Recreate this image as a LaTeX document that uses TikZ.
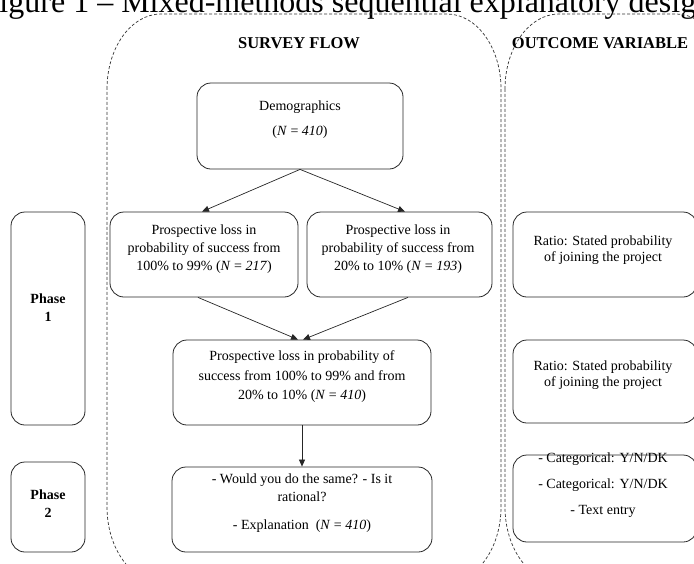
\documentclass[tikz,border=0pt]{standalone}
\usepackage{fontspec}
\setmainfont{Liberation Serif}
\usetikzlibrary{arrows.meta}
\begin{document}
\begin{tikzpicture}[x=1pt,y=-1pt,
  box/.style={draw=black!85, line width=0.8pt, rounded corners=14pt, inner sep=0pt},
  txt/.style={align=center, font=\fontsize{14}{18}\selectfont, inner sep=0pt},
  ptxt/.style={align=center, font=\fontsize{14}{18}\selectfont\bfseries, inner sep=0pt},
  hdr/.style={font=\fontsize{16.5}{20}\selectfont\bfseries, inner sep=0pt},
  region/.style={draw=black!80, line width=0.7pt, dash pattern=on 3pt off 2pt},
  arr/.style={-{Triangle[length=7pt,width=6pt]}, line width=0.7pt, draw=black!85}]
\useasboundingbox (0,0) rectangle (694,563);
\clip (0,0) rectangle (694,563);
% title (cut by the frame, as in the reference)
\node[anchor=base west, inner sep=0pt, font=\fontsize{32}{36}\selectfont] (title) at (-18.5,12) {Figure 1 – Mixed-methods sequential explanatory design};
% dashed regions
\draw[region] (107,89) .. controls (107,47.6) and (131.2,14) .. (161,14) -- (447,14)
  .. controls (476.8,14) and (501,47.6) .. (501,89) -- (501,507)
  .. controls (501,548.4) and (476.8,582) .. (447,582) -- (161,582)
  .. controls (131.2,582) and (107,548.4) .. (107,507) -- cycle;
\draw[region] (505,89) .. controls (505,47.6) and (529.2,14) .. (559,14) -- (676,14)
  .. controls (705.8,14) and (730,47.6) .. (730,89) -- (730,507)
  .. controls (730,548.4) and (705.8,582) .. (676,582) -- (559,582)
  .. controls (529.2,582) and (505,548.4) .. (505,507) -- cycle;
% headers
\node[hdr] (sf) at (299,43) {SURVEY FLOW};
\node[hdr] (ov) at (600,43) {OUTCOME VARIABLE};
% boxes
\node[box, minimum width=206pt, minimum height=86pt] (demo) at (300,126) {};
\node[box, minimum width=188pt, minimum height=85pt] (pa) at (204,254.5) {};
\node[box, minimum width=185pt, minimum height=85pt] (pb) at (399.5,254.5) {};
\node[box, minimum width=258pt, minimum height=85pt] (main) at (302,382.5) {};
\node[box, minimum width=260pt, minimum height=85pt] (final) at (302,509.5) {};
\node[box, minimum width=74pt, minimum height=213pt] (ph1) at (48,318.5) {};
\node[box, minimum width=74pt, minimum height=90pt] (ph2) at (48,507) {};
\node[box, minimum width=184pt, minimum height=85pt] (r1) at (605,254.5) {};
\node[box, minimum width=184pt, minimum height=83pt] (r2) at (605,381.5) {};
\node[box, minimum width=184pt, minimum height=87pt] (r3) at (605,498.5) {};
% texts
\node[txt] (demot) at (300,120) {Demographics\\[7pt](\textit{N} = \textit{410})};
\node[txt] (pat) at (204,249) {Prospective loss in\\probability of success from\\100\% to 99\% (\textit{N} = \textit{217})};
\node[txt] (pbt) at (398,249) {Prospective loss in\\probability of success from\\20\% to 10\% (\textit{N} = \textit{193})};
\node[txt, font=\fontsize{14}{19.5}\selectfont] (maint) at (302,377) {Prospective loss in probability of\\success from 100\% to 99\% and from\\20\% to 10\% (\textit{N} = \textit{410})};
\node[txt] (finalt) at (302,503) {- Would you do the same? - Is it\\rational?\\[10pt]- Explanation~ (\textit{N} = \textit{410})};
\node[ptxt] (ph1t) at (48,308) {Phase\\1};
\node[ptxt] (ph2t) at (48,504) {Phase\\2};
\node[txt, font=\fontsize{14}{16.5}\selectfont] (r1t) at (603,250) {Ratio: Stated probability\\of joining the project};
\node[txt, font=\fontsize{14}{16.5}\selectfont] (r2t) at (603,375) {Ratio: Stated probability\\of joining the project};
\node[txt] (r3t) at (603,485) {- Categorical: Y/N/DK\\[8pt]- Categorical: Y/N/DK\\[8pt]- Text entry};
% arrows
\draw[arr] (demo.south) -- ([xshift=-2pt]pa.north);
\draw[arr] (demo.south) -- ([xshift=5.5pt]pb.north);
\draw[arr] ([xshift=-6pt]pa.south) -- ([xshift=-4pt]main.north);
\draw[arr] ([xshift=8.5pt]pb.south) -- ([xshift=1pt]main.north);
\draw[arr] (main.south) -- (final.north);
\end{tikzpicture}
\end{document}
